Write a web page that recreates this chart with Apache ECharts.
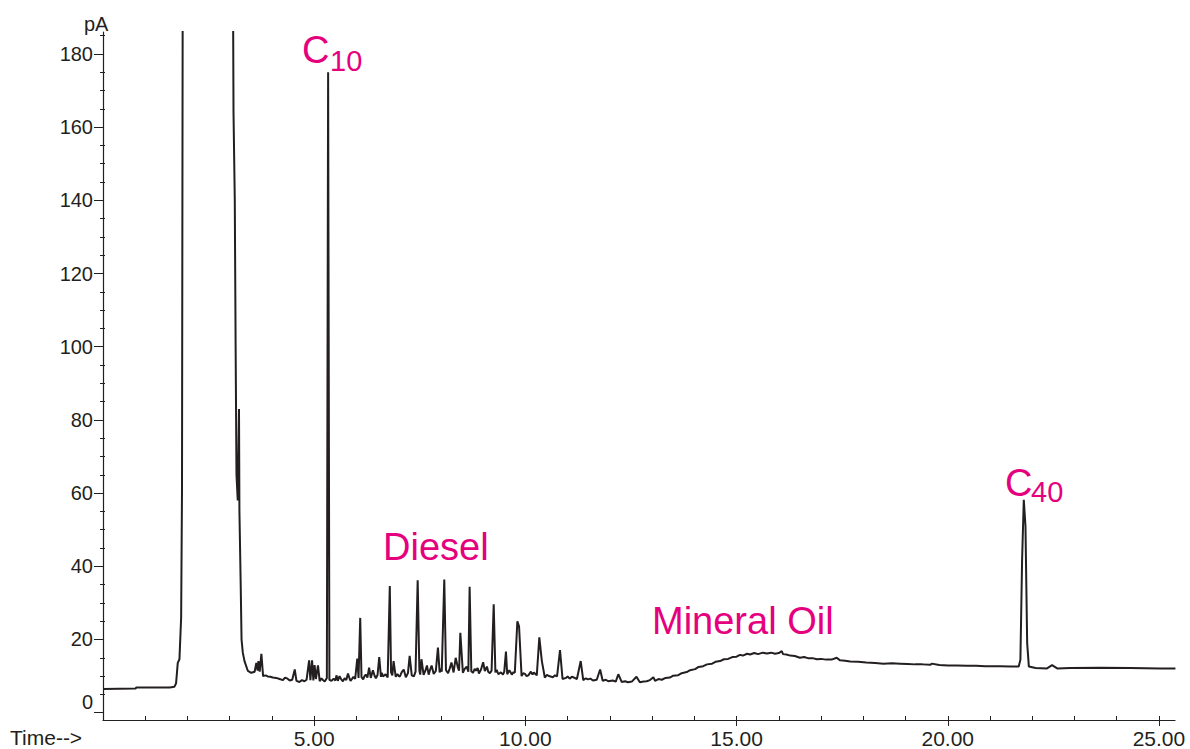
<!DOCTYPE html>
<html>
<head>
<meta charset="utf-8">
<script src="https://cdn.jsdelivr.net/npm/echarts@6/dist/echarts.min.js"></script>
<style>
html,body{margin:0;padding:0;background:#fff;}
#chart{width:1190px;height:749px;}
</style>
</head>
<body>
<div id="chart"></div>
<script>
// Time (min) / signal (pA) pairs
const solventRegion = [
 [0.00,6.5],[0.77,6.6],[0.79,6.9],[1.58,6.9],[1.69,7.1],[1.73,8.0],[1.77,13.6],[1.81,14.6],[1.85,26],[1.87,60],
 [1.89,220],[1.95,600],[2.5,1500],[3.0,600],[3.07,220],[3.09,164],[3.12,140],[3.14,100],[3.16,65],[3.19,58],
 [3.22,83],[3.23,55],[3.26,35],[3.28,20],[3.31,16.4],[3.35,14.1],[3.43,11.4],[3.51,10.9],[3.59,11.2],[3.63,13.6],
 [3.66,11.5],[3.68,14.1],[3.71,11.2],[3.75,16.1],[3.79,10.0],[3.85,10.2],[3.90,9.9],[3.96,9.8],[4.02,9.6],[4.10,9.5],
 [4.18,9.2],[4.26,8.9],[4.31,9.6],[4.37,9.3],[4.42,8.8],[4.48,9.0],[4.54,11.8],[4.58,8.7],[4.65,8.4],[4.71,8.9],
 [4.77,8.6],[4.82,9.0],[4.88,14.3],[4.91,8.9],[4.95,14.3],[4.98,8.8],[5.01,13.0],[5.04,9.2],[5.09,12.9],[5.13,8.6],
 [5.17,9.4],[5.20,9.0],[5.25,8.5],[5.30,9.5]
];
const c10Peak = [[5.33,175]];
const dieselRegion = [
 [5.36,9.0],[5.41,8.7],[5.46,9.3],[5.50,8.8],[5.53,10.2],[5.56,8.7],[5.60,10.0],[5.64,9.1],[5.68,8.6],[5.72,9.4],
 [5.76,8.9],[5.80,10.7],[5.83,9.6],[5.86,8.7],[5.90,9.3],[5.93,9.8],[5.97,9.2],[6.02,14.8],[6.05,9.5],[6.09,25.9],
 [6.12,9.7],[6.16,9.1],[6.19,10.0],[6.22,10.4],[6.26,9.6],[6.30,12.3],[6.34,9.5],[6.39,11.6],[6.43,10.1],[6.46,9.4],
 [6.50,10.3],[6.54,15.2],[6.58,9.8],[6.60,10.9],[6.63,9.9],[6.69,10.5],[6.74,9.6],[6.79,34.6],[6.82,11.0],[6.85,10.2],
 [6.88,14.1],[6.93,9.8],[6.97,10.6],[7.00,10.0],[7.03,9.9],[7.07,11.0],[7.12,11.8],[7.17,9.7],[7.22,10.8],[7.26,15.5],
 [7.31,10.2],[7.36,9.9],[7.40,11.2],[7.45,36.2],[7.49,11.5],[7.51,10.4],[7.54,14.6],[7.59,10.3],[7.63,11.4],[7.67,12.9],
 [7.71,10.4],[7.74,11.6],[7.78,12.9],[7.83,10.6],[7.88,11.4],[7.93,17.8],[7.97,11.0],[8.00,12.0],[8.02,11.2],[8.08,36.4],
 [8.12,11.6],[8.17,10.8],[8.21,12.1],[8.25,13.7],[8.30,11.0],[8.35,15.0],[8.40,12.4],[8.43,11.5],[8.46,21.8],[8.52,10.9],
 [8.56,11.9],[8.61,12.6],[8.65,11.2],[8.68,34.4],[8.72,11.3],[8.76,10.9],[8.80,12.0],[8.83,11.5],[8.87,12.2],[8.90,10.7],
 [8.95,11.8],[9.00,13.8],[9.04,11.4],[9.09,12.6],[9.12,11.2],[9.16,10.8],[9.20,11.5],[9.25,29.6],[9.29,11.0],[9.32,11.7],
 [9.36,10.5],[9.42,11.0],[9.47,10.4],[9.50,11.2],[9.54,16.7],[9.57,10.5],[9.62,11.6],[9.68,10.4],[9.72,11.1],[9.75,10.9],
 [9.81,25.0],[9.85,23.6],[9.91,10.0],[9.95,10.8],[9.99,10.6],[10.03,10.0],[10.07,10.2],[10.13,11.2],[10.17,10.4],[10.20,11.0],
 [10.27,10.2],[10.33,20.6],[10.39,14.1],[10.46,9.6],[10.51,10.3],[10.56,10.0],[10.65,9.7],[10.70,10.2],[10.75,9.9],[10.82,17.1],
 [10.88,9.2],[10.96,9.5],[11.00,9.9],[11.05,9.3],[11.10,9.8],[11.15,9.6],[11.22,9.2],[11.31,14.1],[11.37,8.9],[11.43,9.4],
 [11.48,9.1],[11.54,9.3],[11.60,8.8],[11.69,9.0],[11.77,11.8],[11.83,8.7],[11.90,9.0],[11.96,8.6],[12.07,8.8],[12.14,8.5],
 [12.20,10.5],[12.28,8.4],[12.36,8.6],[12.43,8.3],[12.52,8.5],[12.63,9.8],[12.71,8.3]
];
const mineralOilRegion = [
 [12.80,8.5],[12.87,8.6],[12.95,8.9],[13.03,9.7],[13.07,8.7],[13.15,9.2],[13.23,9.0],[13.32,9.5],[13.42,9.6],[13.50,10.1],
 [13.61,10.2],[13.70,10.8],[13.82,11.1],[13.90,11.6],[14.02,11.9],[14.10,12.5],[14.21,12.7],[14.30,13.2],[14.42,13.4],[14.50,13.9],
 [14.61,14.1],[14.70,14.6],[14.80,14.7],[14.90,15.2],[15.00,15.3],[15.08,15.8],[15.15,15.6],[15.25,16.1],[15.32,15.9],[15.42,16.3],
 [15.51,16.0],[15.62,16.4],[15.72,16.2],[15.82,16.4],[15.91,16.1],[16.00,16.3],[16.07,16.8],[16.10,16.0],[16.18,15.9],[16.27,15.6],
 [16.38,15.5],[16.50,15.0],[16.60,15.2],[16.69,14.9],[16.80,14.9],[16.90,14.6],[17.00,14.7],[17.12,14.5],[17.25,14.5],[17.37,15.0],
 [17.45,14.3],[17.57,14.2],[17.69,14.0],[17.88,13.9],[18.07,13.7],[18.28,13.6],[18.48,13.4],[18.68,13.5],[18.87,13.4],[19.05,13.3],
 [19.23,13.2],[19.40,13.2],[19.59,13.1],[19.62,13.4],[19.80,13.0],[20.01,12.9],[20.22,12.9],[20.45,12.8],[20.67,12.8],[20.89,12.7],
 [21.05,12.7],[21.24,12.7],[21.48,12.6],[21.68,12.6]
];
const c40Region = [
 [21.72,14.5],[21.76,41.8],[21.80,58.2],[21.84,50.9],[21.88,19.0],[21.92,12.6],[22.08,12.2],[22.35,12.1],[22.47,13.0],[22.59,12.1],
 [22.90,12.2],[23.61,12.3],[24.32,12.2],[25.03,12.1],[25.39,12.1]
];
const xMajorTicks = [5, 10, 15, 20, 25];
const xMinorTicks = [1,2,3,4,5,6,7,8,9,10,11,12,13,14,15,16,17,18,19,20,21,22,23,24,25];
const yMajorTicks = [0, 20, 40, 60, 80, 100, 120, 140, 160, 180];
const yMinorTicks = [5,10,15,25,30,35,45,50,55,65,70,75,85,90,95,105,110,115,125,130,135,145,150,155,165,170,175,185];

const trace = solventRegion.concat(c10Peak, dieselRegion, mineralOilRegion, c40Region);

const INK = '#231f20';
const MAG = '#e5007e';
const FONT = 'Liberation Sans, Arial, sans-serif';

const chart = echarts.init(document.getElementById('chart'), null, {renderer: 'svg'});

const option = {
  animation: false,
  backgroundColor: '#fff',
  grid: {left: 103, right: 15, top: 32, bottom: 28},
  xAxis: [
    {
      type: 'value', min: 0, max: 25.38, position: 'bottom',
      axisLine: {show: true, onZero: false, lineStyle: {color: INK, width: 1.2}},
      axisTick: {show: true, customValues: xMajorTicks, length: 6, lineStyle: {color: INK}},
      axisLabel: {customValues: xMajorTicks, formatter: v => v.toFixed(2), fontSize: 21, color: INK, margin: 8, fontFamily: FONT},
      splitLine: {show: false}
    },
    {
      type: 'value', min: 0, max: 25.38, position: 'bottom',
      axisLine: {show: false, onZero: false},
      axisTick: {show: true, inside: true, customValues: xMinorTicks, length: 4, lineStyle: {color: INK}},
      axisLabel: {show: false},
      splitLine: {show: false}
    }
  ],
  yAxis: [
    {
      type: 'value', min: -2, max: 186, position: 'left',
      axisLine: {show: true, onZero: false, lineStyle: {color: INK, width: 1.2}},
      axisTick: {show: true, customValues: yMajorTicks, length: 9, lineStyle: {color: INK}},
      axisLabel: {
        customValues: yMajorTicks, fontSize: 20, color: INK, margin: 10, fontFamily: FONT,
        formatter: v => v === 0 ? '{z|0}' : String(v),
        rich: {z: {fontSize: 20, color: INK, fontFamily: FONT, padding: [0, 0, 22, 0]}}
      },
      splitLine: {show: false}
    },
    {
      type: 'value', min: -2, max: 186, position: 'left',
      axisLine: {show: false, onZero: false},
      axisTick: {show: true, customValues: yMinorTicks, length: 3, lineStyle: {color: INK}},
      axisLabel: {show: false},
      splitLine: {show: false}
    },
    {
      type: 'value', min: -2, max: 186, position: 'left',
      axisLine: {show: false, onZero: false},
      axisTick: {show: true, inside: true, customValues: yMinorTicks, length: 2, lineStyle: {color: INK}},
      axisLabel: {show: false},
      splitLine: {show: false}
    }
  ],
  series: [{
    type: 'line',
    xAxisIndex: 0, yAxisIndex: 0,
    data: trace,
    showSymbol: false,
    symbol: 'none',
    clip: true,
    sampling: false,
    lineStyle: {color: INK, width: 2},
    z: 3
  }],
  graphic: [
    {type: 'text', left: 10, top: 727, style: {text: 'Time-->', fontSize: 21, fill: INK, fontFamily: FONT}},
    {type: 'text', left: 84, top: 14, style: {text: 'pA', fontSize: 20, fill: INK, fontFamily: FONT}},
    {type: 'text', x: 302, y: 50, style: {text: 'C', fontSize: 38, fill: MAG, fontFamily: FONT, verticalAlign: 'middle'}},
    {type: 'text', x: 330, y: 61, style: {text: '10', fontSize: 29, fill: MAG, fontFamily: FONT, verticalAlign: 'middle'}},
    {type: 'text', x: 383, y: 547, style: {text: 'Diesel', fontSize: 38, fill: MAG, fontFamily: FONT, verticalAlign: 'middle'}},
    {type: 'text', x: 652, y: 621, style: {text: 'Mineral Oil', fontSize: 38, fill: MAG, fontFamily: FONT, verticalAlign: 'middle'}},
    {type: 'text', x: 1005, y: 483, style: {text: 'C', fontSize: 38, fill: MAG, fontFamily: FONT, verticalAlign: 'middle'}},
    {type: 'text', x: 1031, y: 492, style: {text: '40', fontSize: 29, fill: MAG, fontFamily: FONT, verticalAlign: 'middle'}}
  ]
};
chart.setOption(option);
</script>
</body>
</html>
